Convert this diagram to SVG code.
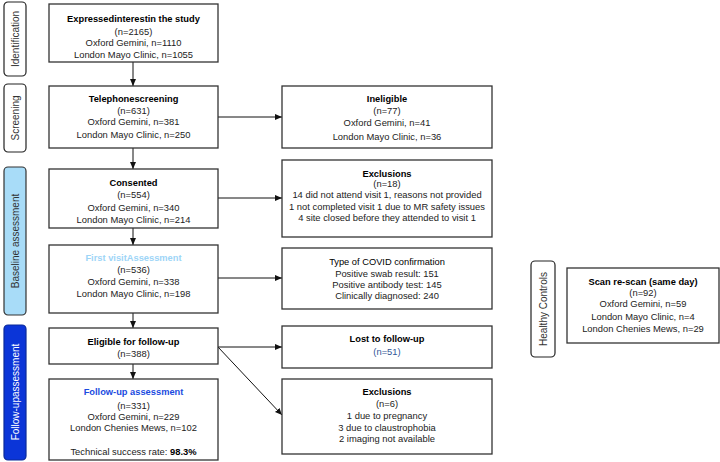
<svg xmlns="http://www.w3.org/2000/svg" width="720" height="462" viewBox="0 0 720 462">
<defs>
<style>
.box{fill:#fff;stroke:#333;stroke-width:1.3}
.lab{fill:#fff;stroke:#222;stroke-width:1.2}
text{font-family:"Liberation Sans",Arial,sans-serif;font-size:9.4px;fill:#222;text-anchor:middle}
.t{font-weight:bold;font-size:9.3px;fill:#000}
.side{font-size:10px;fill:#333}
.con{stroke:#111;stroke-width:1;fill:none}
</style>
<marker id="ah" markerWidth="8" markerHeight="8" refX="7" refY="4" orient="auto" markerUnits="userSpaceOnUse">
<path d="M0,1 L7,4 L0,7 Z" fill="#111"/>
</marker>
</defs>
<rect width="720" height="462" fill="#fff"/>

<g id="stage-identification">
<rect class="lab" x="4" y="2" width="22" height="74" rx="4"/>
<text class="side" transform="translate(18.5,39) rotate(-90)">Identification</text>
</g>
<g id="stage-screening">
<rect class="lab" x="4" y="84" width="22" height="68" rx="4"/>
<text class="side" transform="translate(18.5,118) rotate(-90)">Screening</text>
</g>
<g id="stage-baseline">
<rect x="4" y="167" width="22" height="148" rx="4" fill="#a8dcf8" stroke="#333" stroke-width="1.2"/>
<text class="side" transform="translate(18.5,241) rotate(-90)">Baseline assessment</text>
</g>
<g id="stage-followup">
<rect x="4" y="325" width="22" height="135" rx="4" fill="#0b35d8" stroke="#0a2a9a" stroke-width="1.2"/>
<text class="side" style="fill:#fff" transform="translate(18.5,392) rotate(-90)">Follow-upassessment</text>
</g>
<g id="stage-healthy">
<rect class="lab" x="531" y="261" width="24" height="96" rx="4"/>
<text class="side" transform="translate(546.5,309) rotate(-90)">Healthy Controls</text>
</g>

<g id="connectors">
<line class="con" x1="133" y1="62" x2="133" y2="86" marker-end="url(#ah)"/>
<line class="con" x1="133" y1="148" x2="133" y2="169" marker-end="url(#ah)"/>
<line class="con" x1="133" y1="228" x2="133" y2="245" marker-end="url(#ah)"/>
<line class="con" x1="133" y1="313" x2="133" y2="328" marker-end="url(#ah)"/>
<line class="con" x1="133" y1="364" x2="133" y2="379" marker-end="url(#ah)"/>
<line class="con" x1="218" y1="117" x2="282" y2="117" marker-end="url(#ah)"/>
<line class="con" x1="218" y1="198" x2="282" y2="198" marker-end="url(#ah)"/>
<line class="con" x1="218" y1="278" x2="282" y2="278" marker-end="url(#ah)"/>
<line class="con" x1="218" y1="347" x2="282" y2="347" marker-end="url(#ah)"/>
<line class="con" x1="218" y1="347" x2="282" y2="415" marker-end="url(#ah)"/>
</g>

<g id="n-interest">
<rect class="box" x="49" y="4" width="169" height="58"/>
<text class="t" x="133.5" y="22">Expressedinterestin the study</text>
<text x="133.5" y="34.5">(n=2165)</text>
<text x="133.5" y="46">Oxford Gemini, n=1110</text>
<text x="133.5" y="57.5">London Mayo Clinic, n=1055</text>
</g>
<g id="n-telephone">
<rect class="box" x="49" y="86" width="169" height="62"/>
<text class="t" x="133.5" y="102">Telephonescreening</text>
<text x="133.5" y="113.5">(n=631)</text>
<text x="133.5" y="125">Oxford Gemini, n=381</text>
<text x="133.5" y="138">London Mayo Clinic, n=250</text>
</g>
<g id="n-consented">
<rect class="box" x="49" y="169" width="169" height="59"/>
<text class="t" x="133.5" y="186">Consented</text>
<text x="133.5" y="198">(n=554)</text>
<text x="133.5" y="211">Oxford Gemini, n=340</text>
<text x="133.5" y="223">London Mayo Clinic, n=214</text>
</g>
<g id="n-firstvisit">
<rect class="box" x="49" y="245" width="169" height="68"/>
<text class="t" x="133.5" y="261" style="fill:#9dd5f7">First visitAssessment</text>
<text x="133.5" y="272.5">(n=536)</text>
<text x="133.5" y="284.5">Oxford Gemini, n=338</text>
<text x="133.5" y="297">London Mayo Clinic, n=198</text>
</g>
<g id="n-eligible">
<rect class="box" x="49" y="328" width="169" height="36"/>
<text class="t" x="133.5" y="345">Eligible for follow-up</text>
<text x="133.5" y="356.5">(n=388)</text>
</g>
<g id="n-followup">
<rect class="box" x="49" y="379" width="169" height="81"/>
<text class="t" x="133.5" y="395" style="fill:#1a4be0">Follow-up assessment</text>
<text x="133.5" y="409">(n=331)</text>
<text x="133.5" y="420">Oxford Gemini, n=229</text>
<text x="133.5" y="431">London Chenies Mews, n=102</text>
<text x="133.5" y="455">Technical success rate: <tspan font-weight="bold" fill="#000">98.3%</tspan></text>
</g>

<g id="n-ineligible">
<rect class="box" x="282" y="86" width="210" height="62"/>
<text class="t" x="387" y="102">Ineligible</text>
<text x="387" y="113.5">(n=77)</text>
<text x="387" y="126">Oxford Gemini, n=41</text>
<text x="387" y="140">London Mayo Clinic, n=36</text>
</g>
<g id="n-exclusions1">
<rect class="box" x="282" y="160" width="210" height="77"/>
<text class="t" x="387" y="177">Exclusions</text>
<text x="387" y="186.5">(n=18)</text>
<text x="387" y="198">14 did not attend visit 1, reasons not provided</text>
<text x="387" y="209.5">1 not completed visit 1 due to MR safety issues</text>
<text x="387" y="221">4 site closed before they attended to visit 1</text>
</g>
<g id="n-covid">
<rect class="box" x="282" y="248" width="210" height="61"/>
<text class="t" x="387" y="265" style="font-weight:normal;fill:#000">Type of  COVID confirmation</text>
<text x="387" y="277">Positive swab result: 151</text>
<text x="387" y="287.5">Positive antibody test: 145</text>
<text x="387" y="298.5">Clinically diagnosed: 240</text>
</g>
<g id="n-lost">
<rect class="box" x="282" y="326" width="210" height="42"/>
<text class="t" x="387" y="342">Lost to follow-up</text>
<text x="387" y="355" style="fill:#2f5597">(n=51)</text>
</g>
<g id="n-exclusions2">
<rect class="box" x="282" y="379" width="210" height="75"/>
<text class="t" x="387" y="395">Exclusions</text>
<text x="387" y="407">(n=6)</text>
<text x="387" y="418.5">1 due to pregnancy</text>
<text x="387" y="430.5">3 due to claustrophobia</text>
<text x="387" y="442">2 imaging not available</text>
</g>
<g id="n-scan">
<rect class="box" x="567" y="268" width="152" height="75"/>
<text class="t" x="643" y="285">Scan re-scan (same day)</text>
<text x="643" y="296">(n=92)</text>
<text x="643" y="307">Oxford Gemini, n=59</text>
<text x="643" y="320">London Mayo Clinic, n=4</text>
<text x="643" y="332">London Chenies Mews, n=29</text>
</g>
</svg>
